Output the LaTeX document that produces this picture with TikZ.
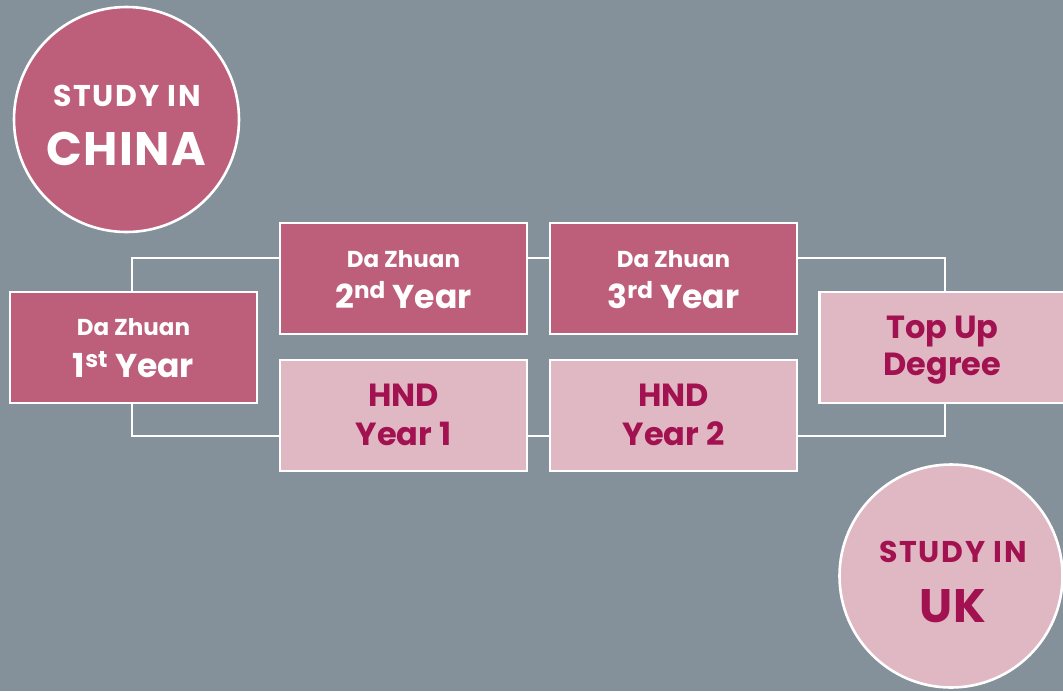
\documentclass[tikz,border=0pt]{standalone}
\usepackage{fontspec}
\setmainfont{Poppins}
\definecolor{bg}{RGB}{132,145,154}
\definecolor{dpink}{RGB}{189,95,123}
\definecolor{lpink}{RGB}{224,184,195}
\definecolor{mag}{RGB}{163,18,80}
\tikzset{
  box/.style={draw=white, line width=2.6pt, minimum width=247pt, minimum height=111pt, inner sep=0pt},
  darkbox/.style={box, fill=dpink},
  lightbox/.style={box, fill=lpink},
  conn/.style={draw=white, line width=2.6pt},
  bubble/.style={circle, draw=white, line width=2.6pt, minimum size=225pt, inner sep=0pt},
  txt/.style={anchor=base, inner sep=0pt},
  smltxt/.style={txt, font=\bfseries\fontsize{23}{28}\selectfont},
  bigtxt/.style={txt, font=\bfseries\fontsize{33}{40}\selectfont},
  hndtxt/.style={txt, font=\bfseries\fontsize{32}{38}\selectfont, text=mag},
  studytxt/.style={txt, font=\bfseries\fontsize{30}{36}\selectfont\addfontfeature{LetterSpace=6}},
  countrytxt/.style={txt, font=\bfseries\fontsize{47}{54}\selectfont\addfontfeature{LetterSpace=3}},
}
\begin{document}
\begin{tikzpicture}[x=1pt,y=-1pt]
\fill[bg] (0,0) rectangle (1063,691);
\useasboundingbox (0,0) rectangle (1063,691);
\begin{scope}
\clip (0,0) rectangle (1063,691);
% circles
\node[bubble, fill=dpink] (china) at (126.5,119.5) {};
\node[studytxt, text=white] (chinaa) at (127,106) {STUDY IN};
\node[countrytxt, text=white] (chinab) at (126.5,165) {CHINA};
\node[bubble, fill=lpink, minimum size=223pt] (uk) at (951,576) {};
\node[studytxt, text=mag] (uka) at (953,562) {STUDY IN};
\node[countrytxt, text=mag] (ukb) at (953,622) {UK};
% connector corners
\coordinate (c1t) at (132,258);
\coordinate (c1b) at (132,436);
\coordinate (c2t) at (945,258);
\coordinate (c2b) at (945,436);
% boxes
\node[darkbox] (y1) at (133.5,347.5) {};
\node[darkbox] (y2) at (403.5,278.5) {};
\node[darkbox] (y3) at (673.5,278.5) {};
\node[lightbox] (h1) at (403.5,415.5) {};
\node[lightbox] (h2) at (673.5,415.5) {};
\node[lightbox, minimum width=260pt] (tu) at (949.5,347.5) {};
% box texts
\node[smltxt, text=white] (y1a) at (133.5,335) {Da Zhuan};
\node[bigtxt, text=white] (y1b) at (133.5,377) {1\textsuperscript{st} Year};
\node[smltxt, text=white] (y2a) at (403.5,267) {Da Zhuan};
\node[bigtxt, text=white] (y2b) at (403.5,308) {2\textsuperscript{nd} Year};
\node[smltxt, text=white] (y3a) at (673.5,267) {Da Zhuan};
\node[bigtxt, text=white] (y3b) at (673.5,308) {3\textsuperscript{rd} Year};
\node[hndtxt] (h1a) at (403.5,406) {HND};
\node[hndtxt] (h1b) at (403.5,445) {Year 1};
\node[hndtxt] (h2a) at (673.5,406) {HND};
\node[hndtxt] (h2b) at (673.5,445) {Year 2};
\node[hndtxt] (tua) at (942.5,338) {Top Up};
\node[hndtxt] (tub) at (942.5,375) {Degree};
% connectors
\draw[conn] (y1.north -| c1t) -- (c1t) -- (y2.west |- c1t);
\draw[conn] (y1.south -| c1b) -- (c1b) -- (h1.west |- c1b);
\draw[conn] (y2.east |- c1t) -- (y3.west |- c1t);
\draw[conn] (h1.east |- c1b) -- (h2.west |- c1b);
\draw[conn] (y3.east |- c2t) -- (c2t) -- (tu.north -| c2t);
\draw[conn] (h2.east |- c2b) -- (c2b) -- (tu.south -| c2b);
\end{scope}
\end{tikzpicture}
\end{document}
